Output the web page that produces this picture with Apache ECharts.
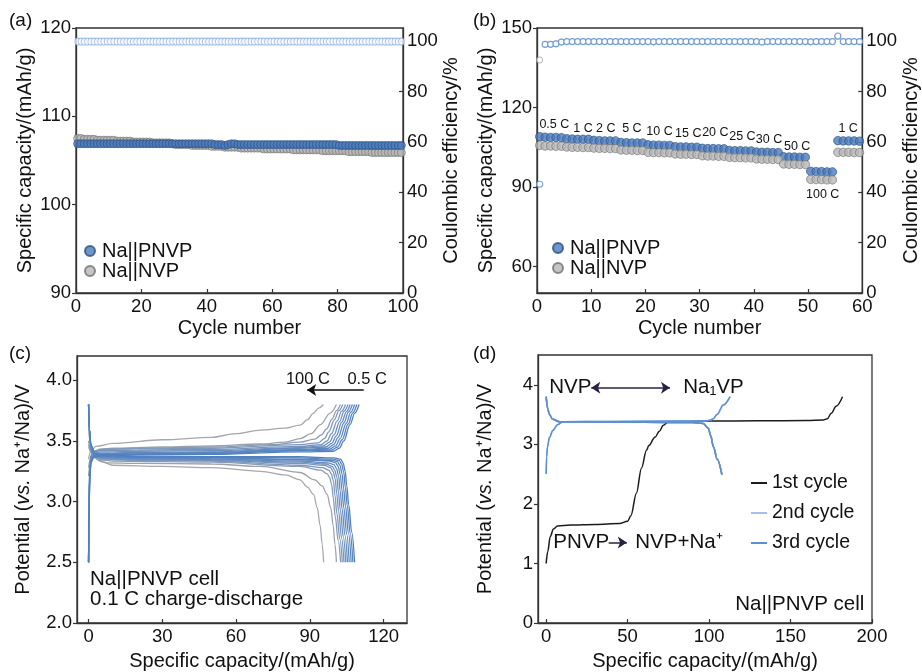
<!DOCTYPE html>
<html><head><meta charset="utf-8">
<script src="https://cdn.jsdelivr.net/npm/echarts@6/dist/echarts.min.js"></script>
<style>html,body{margin:0;padding:0;background:#fff}#c{width:922px;height:672px}</style>
</head><body><div id="c"></div>
<script>
// ---------- Panel (a): long cycling ----------
const A_PNVP = [
106.9,106.9,106.9,106.9,106.9,106.9,106.9,106.9,106.9,106.9,
106.9,106.9,106.9,106.9,106.9,106.9,106.9,106.9,106.9,106.9,
106.9,106.9,106.9,106.9,106.9,106.9,106.9,106.9,106.9,106.9,
106.9,106.9,106.9,106.9,106.9,106.9,106.9,106.9,106.9,106.9,
106.9,106.9,106.8,106.8,106.8,106.7,106.8,106.9,106.9,106.8,
106.8,106.8,106.8,106.8,106.8,106.8,106.8,106.8,106.8,106.8,
106.8,106.8,106.8,106.8,106.8,106.8,106.8,106.8,106.8,106.8,
106.8,106.8,106.8,106.8,106.8,106.8,106.8,106.8,106.8,106.8,
106.7,106.7,106.7,106.7,106.7,106.7,106.7,106.7,106.7,106.7,
106.7,106.7,106.7,106.7,106.7,106.7,106.7,106.7,106.7,106.7];
const A_NVP = [
107.5,107.5,107.4,107.4,107.4,107.4,107.3,107.3,107.3,107.3,
107.3,107.3,107.2,107.2,107.2,107.2,107.2,107.1,107.1,107.1,
107.1,107.1,107.1,107.0,107.0,107.0,107.0,107.0,107.0,106.9,
106.8,106.8,106.8,106.8,106.8,106.7,106.7,106.7,106.7,106.7,
106.7,106.6,106.6,106.6,106.6,106.5,106.5,106.5,106.5,106.5,
106.4,106.4,106.4,106.4,106.4,106.4,106.4,106.3,106.3,106.3,
106.3,106.3,106.3,106.3,106.3,106.3,106.2,106.2,106.2,106.2,
106.2,106.2,106.2,106.2,106.2,106.1,106.1,106.1,106.1,106.1,
106.1,106.1,106.1,106.0,106.0,106.0,106.0,106.0,106.0,106.0,
105.9,105.9,105.9,105.9,105.9,105.9,105.9,105.9,105.9,105.9];
const A_CE = [
99.9,99.9,99.9,99.9,99.9,99.9,99.9,99.9,99.9,99.9,
99.9,99.9,99.9,99.9,99.9,99.9,99.9,99.9,99.9,99.9,
99.9,99.9,99.9,99.9,99.9,99.9,99.9,99.9,99.9,99.9,
99.9,99.9,99.9,99.9,99.9,99.9,99.9,99.9,99.9,99.9,
99.9,99.9,99.9,99.9,99.9,99.9,99.9,99.9,99.9,99.9,
99.9,99.9,99.9,99.9,99.9,99.9,99.9,99.9,99.9,99.9,
99.9,99.9,99.9,99.9,99.9,99.9,99.9,99.9,99.9,99.9,
99.9,99.9,99.9,99.9,99.9,99.9,99.9,99.9,99.9,99.9,
99.9,99.9,99.9,99.9,99.9,99.9,99.9,99.9,99.9,99.9,
99.9,99.9,99.9,99.9,99.9,99.9,99.9,99.9,99.9,99.9];

// ---------- Panel (b): rate capability ----------
const B_PNVP = [
109.0,108.8,108.7,108.7,108.6, 108.2,108.1,108.0,108.0,108.0,
107.6,107.5,107.4,107.4,107.4, 106.8,106.7,106.6,106.6,106.6,
105.9,105.8,105.8,105.7,105.7, 105.2,105.1,105.1,105.0,105.0,
104.6,104.5,104.5,104.4,104.4, 103.8,103.7,103.7,103.6,103.6,
103.2,103.1,103.1,103.0,103.0, 101.4,101.3,101.3,101.2,101.2,
95.9,95.8,95.8,95.7,95.7, 107.5,107.4,107.4,107.4,107.3];
const B_NVP = [
105.7,105.5,105.5,105.4,105.4, 105.1,105.0,105.0,104.9,104.9,
104.7,104.6,104.6,104.5,104.5, 104.0,103.9,103.9,103.8,103.8,
103.1,103.0,103.0,102.9,102.9, 102.5,102.4,102.4,102.3,102.3,
101.8,101.7,101.7,101.6,101.6, 101.2,101.1,101.1,101.0,101.0,
100.6,100.5,100.5,100.4,100.4, 98.7,98.6,98.6,98.5,98.5,
92.9,92.8,92.8,92.7,92.7, 103.1,103.1,103.1,103.0,103.0];
const B_CE_PNVP = [
43.2,98.8,98.8,99.0,99.7, 99.9,99.9,99.9,99.9,99.9,
99.9,99.9,99.9,99.9,99.9, 99.9,99.9,99.9,99.9,99.9,
99.9,99.8,99.9,99.9,99.9, 99.9,99.9,99.9,99.9,99.9,
99.9,99.9,99.9,99.9,99.9, 99.9,99.9,99.9,99.9,99.9,
99.9,99.7,99.9,99.9,99.9, 99.9,99.9,99.9,99.9,99.9,
99.8,99.9,99.9,99.9,99.9, 102.1,99.9,99.9,99.9,99.9];
const B_CE_NVP = [
92.6,98.8,98.8,99.0,99.7, 99.9,99.9,99.9,99.9,99.9,
99.9,99.9,99.9,99.9,99.9, 99.9,99.9,99.9,99.9,99.9,
99.9,99.8,99.9,99.9,99.9, 99.9,99.9,99.9,99.9,99.9,
99.9,99.9,99.9,99.9,99.9, 99.9,99.9,99.9,99.9,99.9,
99.9,99.7,99.9,99.9,99.9, 99.9,99.9,99.9,99.9,99.9,
99.8,99.9,99.9,99.9,99.9, 101.9,99.9,99.9,99.9,99.9];
const B_RATE_LABELS = ['0.5 C','1 C','2 C','5 C','10 C','15 C','20 C','25 C','30 C','50 C','100 C','1 C'];
const B_RATE_X = [3.2, 8.5, 12.7, 17.5, 22.6, 27.9, 32.9, 37.9, 42.8, 48.0, 52.7, 57.4];
const B_RATE_Y = [113.4, 112.2, 112.2, 112.0, 110.9, 110.1, 110.4, 108.9, 107.9, 105.4, 87.3, 112.0];

// ---------- Panel (c): voltage profiles at different rates ----------
const C_RATES = ['0.5 C','1 C','2 C','5 C','10 C','15 C','20 C','25 C','30 C','50 C','100 C'];
const C_COLORS = ['#5080c0','#5583c0','#5a86c0','#6089c0','#668cbf','#6d90bf','#7594be','#7e98bc','#889cb8','#9da1aa','#a6a8ad'];
const CHG_05 = [[0,2.5],[0.2,2.9],[0.5,3.2],[1,3.32],[2,3.36],[5,3.38],[20,3.385],[50,3.39],[86,3.41],[99.5,3.415],[102,3.44],[103.8,3.5],[106.3,3.635],[108.3,3.73],[110,3.8]];
const CHG_1 = [[0,2.5],[0.2,2.92],[0.5,3.21],[1,3.33],[2,3.37],[5,3.385],[20,3.39],[50,3.395],[86,3.42],[98.8,3.425],[101.3,3.45],[103.1,3.51],[105.6,3.64],[107.4,3.73],[109.1,3.8]];
const CHG_2 = [[0,2.5],[0.2,2.93],[0.5,3.22],[1,3.34],[2,3.375],[5,3.39],[20,3.395],[50,3.4],[86,3.425],[98,3.432],[100.5,3.46],[102.3,3.52],[104.8,3.645],[106.6,3.735],[108.2,3.8]];
const CHG_5 = [[0,2.5],[0.2,2.95],[0.5,3.24],[1,3.35],[2,3.38],[5,3.395],[20,3.4],[50,3.405],[86,3.43],[97.2,3.44],[99.7,3.47],[101.5,3.53],[103.9,3.65],[105.7,3.74],[107.3,3.8]];
const CHG_10 = [[0,2.5],[0.2,2.97],[0.5,3.26],[1,3.36],[2,3.39],[5,3.4],[20,3.405],[50,3.41],[86,3.44],[96.4,3.45],[98.9,3.48],[100.7,3.54],[103,3.655],[104.8,3.74],[106.4,3.8]];
const CHG_15 = [[0,2.5],[0.2,3.0],[0.5,3.28],[1,3.37],[2,3.4],[5,3.41],[20,3.415],[50,3.42],[86,3.445],[95.5,3.46],[98,3.49],[99.8,3.55],[102.1,3.66],[103.9,3.745],[105.5,3.8]];
const CHG_20 = [[0,2.5],[0.2,3.02],[0.5,3.3],[1,3.38],[2,3.41],[5,3.42],[20,3.425],[50,3.43],[86,3.455],[94.6,3.47],[97,3.5],[98.8,3.56],[101.1,3.665],[102.9,3.745],[104.5,3.8]];
const CHG_25 = [[0,2.5],[0.3,3.1],[0.7,3.33],[1.5,3.4],[3,3.42],[6,3.43],[20,3.435],[50,3.44],[86,3.47],[93.5,3.485],[95.9,3.52],[97.7,3.575],[100,3.675],[101.8,3.75],[103.4,3.8]];
const CHG_30 = [[0,3.21],[1,3.35],[2,3.4],[4,3.425],[8,3.435],[20,3.44],[50,3.45],[75,3.47],[86,3.49],[92,3.515],[94.7,3.55],[96.8,3.6],[99,3.68],[100.8,3.75],[102.4,3.8]];
const CHG_50 = [[0,3.28],[1,3.37],[2.5,3.42],[5,3.435],[10,3.44],[30,3.45],[50,3.46],[70,3.475],[80,3.49],[86,3.52],[90.5,3.56],[94.3,3.635],[98.3,3.73],[100.8,3.8]];
const CHG_100 = [[0,3.35],[1,3.42],[3,3.455],[10,3.48],[30,3.51],[50,3.53],[60,3.56],[70,3.59],[80,3.605],[86,3.63],[89,3.675],[91.5,3.73],[93.5,3.77],[95.5,3.8]];
const DIS_05 = [[0,3.8],[0.3,3.6],[1,3.47],[2.5,3.4],[5,3.385],[20,3.375],[50,3.37],[86,3.37],[100,3.36],[102.5,3.35],[103.5,3.32],[104.4,3.25],[105,3.13],[105.8,2.975],[107,2.75],[108.2,2.5]];
const DIS_1 = [[0,3.8],[0.3,3.6],[1,3.46],[2.5,3.395],[5,3.38],[20,3.37],[50,3.365],[86,3.36],[99.4,3.35],[101.9,3.34],[102.9,3.31],[103.8,3.24],[104.4,3.12],[105.2,2.97],[106.4,2.74],[107.5,2.5]];
const DIS_2 = [[0,3.8],[0.3,3.6],[1,3.45],[2.5,3.39],[5,3.375],[20,3.365],[50,3.36],[86,3.35],[98.7,3.34],[101.2,3.33],[102.2,3.3],[103.1,3.23],[103.7,3.11],[104.5,2.96],[105.7,2.74],[106.8,2.5]];
const DIS_5 = [[0,3.8],[0.3,3.6],[1,3.44],[2.5,3.385],[5,3.37],[20,3.36],[50,3.355],[86,3.345],[98,3.335],[100.5,3.32],[101.5,3.29],[102.4,3.22],[103,3.1],[103.8,2.95],[105,2.73],[106,2.5]];
const DIS_10 = [[0,3.8],[0.3,3.6],[1,3.43],[2.5,3.38],[5,3.365],[20,3.355],[50,3.35],[86,3.335],[97.3,3.32],[99.8,3.305],[100.8,3.275],[101.7,3.21],[102.3,3.09],[103.1,2.94],[104.3,2.72],[105.3,2.5]];
const DIS_15 = [[0,3.8],[0.3,3.6],[1,3.42],[2.5,3.37],[5,3.36],[20,3.35],[50,3.345],[86,3.325],[96.6,3.31],[99.1,3.29],[100.1,3.26],[101,3.2],[101.6,3.08],[102.4,2.93],[103.6,2.71],[104.6,2.5]];
const DIS_20 = [[0,3.8],[0.3,3.6],[1,3.41],[2.5,3.365],[5,3.355],[20,3.345],[50,3.34],[86,3.315],[95.9,3.3],[98.4,3.28],[99.4,3.25],[100.3,3.19],[100.9,3.07],[101.7,2.92],[102.9,2.7],[103.9,2.5]];
const DIS_25 = [[0,3.63],[0.5,3.5],[1.5,3.41],[3,3.37],[6,3.35],[20,3.34],[50,3.335],[86,3.3],[95.2,3.28],[97.7,3.26],[98.7,3.23],[99.6,3.17],[100.2,3.05],[101,2.9],[102.2,2.69],[103.2,2.5]];
const DIS_30 = [[0,3.5],[1,3.42],[2.5,3.37],[5,3.345],[10,3.335],[30,3.33],[50,3.325],[86,3.29],[94.5,3.26],[97,3.23],[98,3.2],[98.9,3.14],[99.5,3.03],[100.3,2.88],[101.5,2.68],[102.5,2.5]];
const DIS_50 = [[0,3.47],[1.5,3.39],[4,3.34],[8,3.32],[20,3.315],[50,3.31],[70,3.29],[86,3.24],[92,3.18],[95,3.13],[97,3.06],[98.5,2.95],[99.5,2.8],[100.2,2.65],[100.8,2.5]];
const DIS_100 = [[0,3.45],[2,3.38],[5,3.33],[10,3.3],[30,3.29],[50,3.28],[70,3.25],[80,3.22],[86,3.18],[89,3.12],[91.5,3.06],[93,2.95],[94.2,2.8],[95,2.65],[95.6,2.5]];
const C_CHARGE = [CHG_05,CHG_1,CHG_2,CHG_5,CHG_10,CHG_15,CHG_20,CHG_25,CHG_30,CHG_50,CHG_100];
const C_DISCHARGE = [DIS_05,DIS_1,DIS_2,DIS_5,DIS_10,DIS_15,DIS_20,DIS_25,DIS_30,DIS_50,DIS_100];

// ---------- Panel (d): first three cycles ----------
const D_CYC1_CHG = [[0,1.0],[1,1.2],[2.5,1.45],[4.5,1.58],[7,1.63],[15,1.645],[30,1.655],[45,1.67],[50,1.71],[52,1.8],[55.4,2.18],[58.5,2.6],[61.6,2.9],[63,2.98],[66.8,3.12],[69.5,3.22],[71.9,3.32],[75,3.38],[100,3.39],[130,3.395],[160,3.4],[170,3.41],[172.6,3.43],[175,3.52],[178,3.64],[181.9,3.8]];
const D_CYC1_DIS = [[0,3.8],[1,3.6],[2,3.5],[4,3.42],[8.2,3.38],[30,3.375],[60,3.37],[90,3.365],[96.5,3.35],[99.6,3.27],[101,3.15],[102.7,2.96],[105,2.75],[107.9,2.49]];
const D_CYC2_CHG = [[0,2.52],[0.3,2.8],[0.8,2.96],[2,3.12],[4.1,3.24],[7,3.33],[10.3,3.38],[40,3.385],[80,3.39],[98.6,3.395],[101,3.41],[102.7,3.43],[105,3.5],[108.9,3.66],[113,3.8]];
const D_CYC2_DIS = [[0,3.8],[1,3.6],[2,3.51],[4,3.42],[8.2,3.38],[30,3.375],[60,3.37],[90,3.365],[96.5,3.35],[99.6,3.27],[101,3.15],[102.7,2.96],[105,2.75],[107.9,2.49]];
const D_CYC3_CHG = [[0,2.5],[0.3,2.79],[0.8,2.95],[2,3.11],[4.1,3.23],[7,3.33],[10.3,3.38],[40,3.385],[80,3.39],[98.4,3.395],[100.8,3.41],[102.5,3.43],[104.8,3.5],[108.7,3.66],[112.8,3.8]];
const D_CYC3_DIS = [[0,3.8],[1,3.59],[2,3.5],[4,3.42],[8.2,3.38],[30,3.375],[60,3.37],[90,3.365],[96.3,3.35],[99.4,3.27],[100.9,3.15],[102.6,2.96],[104.9,2.75],[107.8,2.49]];

// ---------- build ----------
const FONT = 'Liberation Sans, Arial, sans-serif';
const TXT = '#111111';
const AX = '#333333';
const chart = echarts.init(document.getElementById('c'), null, {renderer: 'canvas'});
const cyc = arr => arr.map((v, i) => [i + 0.5, v]);

function xAx(grid, o) {
  return Object.assign({
    gridIndex: grid, type: 'value', nameLocation: 'middle',
    nameTextStyle: {fontSize: 20, color: TXT, fontFamily: FONT},
    axisLine: {show: true, onZero: false, lineStyle: {color: AX, width: 1.3}},
    axisTick: {show: true, inside: true, length: 4, lineStyle: {color: AX, width: 1.2}},
    axisLabel: {fontSize: 18.5, color: TXT, fontFamily: FONT, margin: 4},
    splitLine: {show: false}
  }, o);
}
function yAx(grid, o, inside) {
  return Object.assign({
    gridIndex: grid, type: 'value', nameLocation: 'middle', nameRotate: 90,
    nameTextStyle: {fontSize: 20, color: TXT, fontFamily: FONT, rich: {i: {fontStyle: 'italic', fontSize: 20, color: TXT, fontFamily: FONT}}},
    axisLine: {show: true, onZero: false, lineStyle: {color: AX, width: 1.3}},
    axisTick: {show: true, inside: !!inside, length: 4, lineStyle: {color: AX, width: 1.2}},
    axisLabel: {fontSize: 18.5, color: TXT, fontFamily: FONT, margin: 5},
    splitLine: {show: false}
  }, o);
}

const gridBox = {show: true, borderColor: AX, borderWidth: 1.3, backgroundColor: 'transparent'};
const grids = [
  Object.assign({left: 76, right: 519, top: 28, bottom: 379}, gridBox),
  Object.assign({left: 537, right: 56, top: 28, bottom: 379}, gridBox),
  Object.assign({left: 77, right: 515, top: 356, bottom: 48}, gridBox),
  Object.assign({left: 538, right: 50, top: 355, bottom: 48}, gridBox)
];

const xAxes = [
  xAx(0, {min: 0, max: 100, interval: 20, name: 'Cycle number', nameGap: 25}),
  xAx(1, {min: 0, max: 60, interval: 10, name: 'Cycle number', nameGap: 25}),
  xAx(2, {min: -4.7, max: 129.5, name: 'Specific capacity/(mAh/g)', nameGap: 28,
          axisTick: {show: true, inside: true, length: 4, customValues: [0,30,60,90,120], lineStyle: {color: AX, width: 1.2}},
          axisLabel: {fontSize: 18.5, color: TXT, fontFamily: FONT, margin: 4, customValues: [0,30,60,90,120]}}),
  xAx(3, {min: -5, max: 200, name: 'Specific capacity/(mAh/g)', nameGap: 28,
          axisTick: {show: true, inside: true, length: 4, customValues: [0,50,100,150,200], lineStyle: {color: AX, width: 1.2}},
          axisLabel: {fontSize: 18.5, color: TXT, fontFamily: FONT, margin: 4, customValues: [0,50,100,150,200]}})
];
const rightCE = (grid) => yAx(grid, {position: 'right', min: 0, max: 105.3, name: 'Coulombic efficiency/%', nameGap: 38,
  axisTick: {show: true, inside: true, length: 4, customValues: [0,20,40,60,80,100], lineStyle: {color: AX, width: 1.2}},
  axisLabel: {fontSize: 18.5, color: TXT, fontFamily: FONT, margin: 4, customValues: [0,20,40,60,80,100]}}, true);
const yAxes = [
  yAx(0, {min: 90, max: 120, interval: 10, name: 'Specific capacity/(mAh/g)', nameGap: 41}),
  rightCE(0),
  yAx(1, {min: 50, max: 150, name: 'Specific capacity/(mAh/g)', nameGap: 41,
          axisTick: {show: true, length: 4, customValues: [60,90,120,150], lineStyle: {color: AX, width: 1.2}},
          axisLabel: {fontSize: 18.5, color: TXT, fontFamily: FONT, margin: 5, customValues: [60,90,120,150]}}),
  rightCE(1),
  yAx(2, {min: 2.0, max: 4.2, name: 'Potential ({i|vs.} Na⁺/Na)/V', nameGap: 44,
          axisTick: {show: true, length: 4, customValues: [2,2.5,3,3.5,4], lineStyle: {color: AX, width: 1.2}},
          axisLabel: {fontSize: 18.5, color: TXT, fontFamily: FONT, margin: 5, customValues: [2,2.5,3,3.5,4], formatter: v => v.toFixed(1)}}),
  yAx(3, {min: 0, max: 4.5, name: 'Potential ({i|vs.} Na⁺/Na)/V', nameGap: 43,
          axisTick: {show: true, length: 4, customValues: [0,1,2,3,4], lineStyle: {color: AX, width: 1.2}},
          axisLabel: {fontSize: 18.5, color: TXT, fontFamily: FONT, margin: 5, customValues: [0,1,2,3,4]}})
];

const PNVP_STYLE = {color: '#4a7bbd', borderColor: '#2b4d7d', borderWidth: 0.8};
const NVP_STYLE = {color: '#b6b6b6', borderColor: '#707070', borderWidth: 0.8};
const series = [];
// (a)
series.push({type: 'scatter', name: 'Na||NVP', xAxisIndex: 0, yAxisIndex: 0, data: cyc(A_NVP), symbolSize: 8, itemStyle: NVP_STYLE, z: 2});
series.push({type: 'scatter', name: 'Na||PNVP', xAxisIndex: 0, yAxisIndex: 0, data: cyc(A_PNVP), symbolSize: 8, itemStyle: PNVP_STYLE, z: 3});
series.push({type: 'scatter', name: 'CE a', xAxisIndex: 0, yAxisIndex: 1, data: cyc(A_CE), symbolSize: [5.5, 7],
  itemStyle: {color: '#fff', borderColor: '#8fb2e4', borderWidth: 1}, z: 3});
// (b)
series.push({type: 'scatter', name: 'Na||PNVP', xAxisIndex: 1, yAxisIndex: 2, data: cyc(B_PNVP), symbolSize: 8.5, itemStyle: PNVP_STYLE, z: 2});
series.push({type: 'scatter', name: 'Na||NVP', xAxisIndex: 1, yAxisIndex: 2, data: cyc(B_NVP), symbolSize: 8.5, itemStyle: NVP_STYLE, z: 3});
series.push({type: 'scatter', name: 'CE b NVP', xAxisIndex: 1, yAxisIndex: 3, data: cyc(B_CE_NVP), symbolSize: 6,
  itemStyle: {color: '#fff', borderColor: '#a0a0a0', borderWidth: 1}, z: 2});
series.push({type: 'scatter', name: 'CE b PNVP', xAxisIndex: 1, yAxisIndex: 3, data: cyc(B_CE_PNVP), symbolSize: 6,
  itemStyle: {color: '#fff', borderColor: '#5b8ed6', borderWidth: 1.1}, z: 3});

function textItem(x, y, text, pos, size) {
  const lab = {show: true, position: pos, distance: 0, color: TXT, fontSize: size, fontFamily: FONT,
               textBorderWidth: 0, opacity: 1, formatter: text};
  return {value: [x, y], label: lab};
}
function textSeries(xi, yi, items) {
  return {type: 'scatter', xAxisIndex: xi, yAxisIndex: yi, symbol: 'circle', symbolSize: 1, silent: true,
    itemStyle: {color: '#ffffff', opacity: 0}, label: {show: true, color: TXT}, emphasis: {disabled: true},
    data: items, z: 6};
}
series.push(textSeries(1, 2, B_RATE_LABELS.map((t, i) => textItem(B_RATE_X[i], B_RATE_Y[i], t, 'inside', 12.5))));
// (c)
for (let i = C_RATES.length - 1; i >= 0; i--) {
  [C_CHARGE[i], C_DISCHARGE[i]].forEach((d, k) => {
    series.push({type: 'line', name: C_RATES[i] + (k ? ' dis' : ' chg'), xAxisIndex: 2, yAxisIndex: 4, data: d,
      showSymbol: false, smooth: 0.35, smoothMonotone: 'x', lineStyle: {color: C_COLORS[i], width: 1.3}, z: 3});
  });
}
series.push({type: 'lines', coordinateSystem: 'cartesian2d', xAxisIndex: 2, yAxisIndex: 4, silent: true,
  data: [{coords: [[111.9, 3.92], [88.9, 3.92]]}], symbol: ['none', 'arrow'], symbolSize: 9,
  lineStyle: {color: '#111', width: 1.6, opacity: 1}, z: 5});
series.push(textSeries(2, 4, [
  textItem(89.2, 4.01, '100 C', 'inside', 16.5),
  textItem(113.3, 4.01, '0.5 C', 'inside', 16.5),
  textItem(0.4, 2.357, 'Na||PNVP cell', 'right', 20.5),
  textItem(0.4, 2.198, '0.1 C charge-discharge', 'right', 20.5)
]));
// (d)
const D_SETS = [['1st cycle', '#1b1b1b', D_CYC1_CHG, D_CYC1_DIS], ['2nd cycle', '#a3c2ea', D_CYC2_CHG, D_CYC2_DIS], ['3rd cycle', '#5b8ed3', D_CYC3_CHG, D_CYC3_DIS]];
D_SETS.forEach(s => {
  [s[2], s[3]].forEach(d => series.push({type: 'line', name: s[0], xAxisIndex: 3, yAxisIndex: 5, data: d,
    showSymbol: false, smooth: 0.35, smoothMonotone: 'x', lineStyle: {color: s[1], width: 1.5}, itemStyle: {color: s[1]}, z: 3}));
});
series.push({type: 'lines', coordinateSystem: 'cartesian2d', xAxisIndex: 3, yAxisIndex: 5, silent: true,
  data: [{coords: [[27.7, 3.95], [76.0, 3.95]], symbol: ['arrow', 'arrow']}, {coords: [[38.4, 1.35], [49.5, 1.35]], symbol: ['none', 'arrow']}],
  symbol: ['arrow', 'arrow'], symbolSize: 9, lineStyle: {color: '#2b2142', width: 1.6, opacity: 1}, z: 5});
series.push(textSeries(3, 5, [
  textItem(1.6, 3.95, 'NVP', 'right', 20.5),
  textItem(83.8, 3.95, 'Na₁VP', 'right', 20.5),
  textItem(4.1, 1.35, 'PNVP', 'right', 20.5),
  textItem(54.4, 1.35, 'NVP+Na⁺', 'right', 20.5),
  textItem(195.6, 0.32, 'Na||PNVP cell', 'left', 20.5)
]));

const legendText = {fontSize: 20, color: TXT, fontFamily: FONT, lineHeight: 20};
const option = {
  animation: false,
  backgroundColor: '#fff',
  textStyle: {fontFamily: FONT},
  grid: grids,
  xAxis: xAxes,
  yAxis: yAxes,
  legend: [
    {left: 84, top: 241, orient: 'vertical', itemGap: 0, itemWidth: 14, itemHeight: 10, icon: 'circle',
     data: ['Na||PNVP', 'Na||NVP'], textStyle: legendText, selectedMode: false, padding: 0},
    {left: 552, top: 238, orient: 'vertical', itemGap: 0, itemWidth: 14, itemHeight: 10, icon: 'circle',
     data: ['Na||PNVP', 'Na||NVP'], textStyle: legendText, selectedMode: false, padding: 0},
    {left: 751, top: 473, orient: 'vertical', itemGap: 10, itemWidth: 16, itemHeight: 2, icon: 'rect',
     data: ['1st cycle', '2nd cycle', '3rd cycle'], textStyle: {fontSize: 19.5, color: TXT, fontFamily: FONT, lineHeight: 19},
     selectedMode: false, padding: 0}
  ],
  graphic: [
    {type: 'text', left: 9, top: 11, style: {text: '(a)', fontSize: 19, fill: TXT, fontFamily: FONT}},
    {type: 'text', left: 473, top: 11, style: {text: '(b)', fontSize: 19, fill: TXT, fontFamily: FONT}},
    {type: 'text', left: 9, top: 344, style: {text: '(c)', fontSize: 19, fill: TXT, fontFamily: FONT}},
    {type: 'text', left: 473, top: 344, style: {text: '(d)', fontSize: 19, fill: TXT, fontFamily: FONT}}
  ],
  series: series
};
chart.setOption(option);
</script></body></html>
